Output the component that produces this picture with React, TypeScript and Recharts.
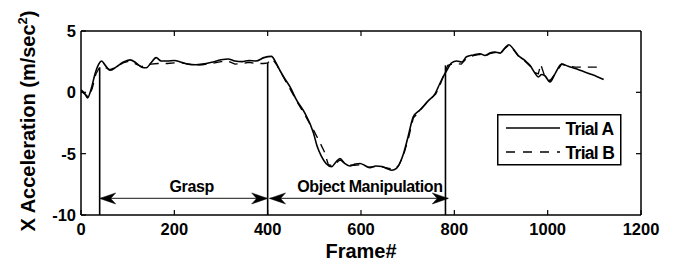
import React from "react";
import { LineChart, Line, XAxis, YAxis, ReferenceLine, Legend } from "recharts";

const FONT = '"Liberation Sans", Arial, Helvetica, sans-serif';

// Frame numbers and X acceleration (m/sec^2)
const trialAFrames = [0, 8, 14, 22, 30, 38, 44, 52, 62, 75, 90, 105, 118, 130, 140, 150, 161, 172, 185, 200, 215, 230, 245, 260, 280, 300, 315, 330, 345, 360, 375, 392, 408, 418, 426, 437, 448, 462, 480, 498, 506, 515, 525, 537, 546, 555, 565, 576, 588, 598, 610, 619, 632, 645, 655, 666, 676, 684, 691, 701, 712, 726, 744, 759, 769, 778, 784, 794, 805, 816, 826, 841, 855, 866, 876, 887, 898, 909, 917, 926, 937, 951, 962, 973, 980, 987, 994, 1005, 1016, 1030, 1044, 1059, 1073, 1091, 1105, 1120];
const trialAValues = [0.2, -0.1, -0.45, 0.3, 1.5, 2.3, 2.55, 2.2, 1.8, 2.05, 2.45, 2.65, 2.4, 2.05, 2.0, 2.4, 2.83, 2.55, 2.55, 2.6, 2.45, 2.3, 2.25, 2.3, 2.45, 2.65, 2.72, 2.55, 2.5, 2.6, 2.55, 2.83, 2.93, 2.4, 1.8, 1.1, 0.44, -0.64, -1.72, -3.3, -4.4, -5.2, -5.8, -6.06, -5.7, -5.4, -5.8, -6.0, -5.85, -5.8, -6.0, -6.15, -6.0, -6.05, -6.2, -6.35, -6.2, -5.7, -5.0, -3.6, -2.0, -1.45, -0.7, -0.1, 0.72, 1.4, 1.8, 2.4, 2.55, 2.47, 2.9, 3.05, 3.15, 3.0, 3.2, 3.28, 3.2, 3.65, 3.88, 3.56, 3.0, 2.6, 2.2, 1.55, 1.25, 1.45, 1.35, 0.85, 1.53, 2.3, 2.12, 1.95, 1.75, 1.5, 1.3, 1.05];

const trialBFrames = [0, 10, 16, 24, 32, 40, 50, 62, 75, 90, 105, 118, 130, 140, 150, 165, 185, 200, 215, 230, 245, 260, 280, 300, 315, 330, 345, 360, 375, 392, 400, 410, 420, 430, 440, 452, 465, 482, 500, 512, 521, 530, 540, 555, 570, 585, 600, 615, 630, 648, 660, 672, 682, 692, 702, 712, 726, 744, 760, 770, 778, 786, 795, 805, 815, 826, 841, 855, 866, 876, 887, 898, 909, 917, 926, 937, 951, 962, 973, 980, 985, 992, 1005, 1016, 1030, 1044, 1059, 1075, 1090, 1105, 1120];
const trialBValues = [0.1, -0.2, -0.4, 0.3, 1.5, 2.05, 2.05, 1.85, 2.05, 2.4, 2.55, 2.3, 2.1, 2.2, 2.3, 2.35, 2.35, 2.4, 2.4, 2.3, 2.25, 2.25, 2.35, 2.5, 2.55, 2.3, 2.35, 2.45, 2.35, 2.35, 2.4, 2.75, 2.2, 1.5, 0.8, 0.0, -0.9, -2.0, -3.2, -4.1, -4.8, -5.9, -6.0, -5.5, -5.9, -5.95, -5.9, -6.1, -6.05, -6.1, -6.2, -6.3, -5.9, -5.0, -3.7, -2.1, -1.5, -0.7, -0.15, 0.65, 1.5, 2.2, 2.3, 2.35, 2.3, 2.75, 3.0, 3.1, 2.95, 3.15, 3.25, 3.15, 3.6, 3.85, 3.5, 2.95, 2.55, 2.15, 1.6, 1.5, 2.3, 1.5, 0.95, 1.5, 2.3, 2.15, 2.05, 2.05, 2.05, 2.05, 2.05];

const xTicks = [0, 200, 400, 600, 800, 1000, 1200];
const yTicks = [-10, -5, 0, 5];
const xDomain = [0, 1200];
const yDomain = [-10, 5];

// phase boundaries (frame) and where the boundary line meets the curve
const boundaryFrames = [40, 400, 781];
const boundaryTops = [2.05, 2.4, 2.2];

// phases: start, end, label, arrow level
const phaseStarts = [40, 404];
const phaseEnds = [400, 787];
const phaseLabels = ["Grasp", "Object Manipulation"];
const phaseLevel = -8.65;
const labelShift = [8, 11];

const seriesNames = ["Trial A", "Trial B"];

const trialA = trialAFrames.map((f, i) => ({ f, v: trialAValues[i] }));
const trialB = trialBFrames.map((f, i) => ({ f, v: trialBValues[i] }));

const tickStyle = { fontSize: 16.5, fontWeight: 700, fill: "#000", fontFamily: FONT };
const TICK = 5;

function head(x: number, y: number, dir: number) {
  const L = 16;
  const W = 5.5;
  const N = 11;
  const pts = [
    [x, y],
    [x - dir * L, y - W],
    [x - dir * N, y],
    [x - dir * L, y + W],
  ]
    .map((p) => p.join(","))
    .join(" ");
  return <polygon points={pts} fill="#000" stroke="#000" strokeWidth={0.5} />;
}

const makeArrow = (label: string, shift: number) => (props: any) => {
  const { x1, y1, x2, y2 } = props;
  return (
    <g>
      <line x1={x1} y1={y1} x2={x2} y2={y2} stroke="#444" strokeWidth={1.2} />
      {head(x1, y1, -1)}
      {head(x2, y2, 1)}
      <text
        x={(x1 + x2) / 2 + shift}
        y={y1 - 6}
        textAnchor="middle"
        fontFamily={FONT}
        fontSize={16}
        fontWeight={700}
        fill="#000"
        letterSpacing={-0.4}
      >
        {label}
      </text>
    </g>
  );
};

// inward tick at the top edge, drawn from the full-height reference line
const topTick = (props: any) => {
  const { x1, y1, y2 } = props;
  const top = Math.min(y1, y2);
  return <line x1={x1} x2={x1} y1={top} y2={top + TICK} stroke="#000" strokeWidth={1.2} />;
};
// inward tick at the right edge
const rightTick = (props: any) => {
  const { x1, x2, y1 } = props;
  const right = Math.max(x1, x2);
  return <line x1={right} x2={right - TICK} y1={y1} y2={y1} stroke="#000" strokeWidth={1.2} />;
};

const YLabel = () => (
  <text
    x={27}
    y={113}
    transform="rotate(-90, 27, 113)"
    textAnchor="middle"
    fontFamily={FONT}
    fontSize={20}
    fontWeight={700}
    fill="#000"
  >
    X Acceleration (m/sec
    <tspan fontSize={13} dy={-8}>2</tspan>
    <tspan dy={8}>)</tspan>
  </text>
);

const XLabel = (props: any) => {
  const vb = props.viewBox || {};
  return (
    <text
      x={(vb.x ?? 73) + (vb.width ?? 560) / 2}
      y={250}
      textAnchor="middle"
      fontFamily={FONT}
      fontSize={20}
      fontWeight={700}
      fill="#000"
    >
      Frame#
    </text>
  );
};

const LegendBox = () => (
  <svg width={125} height={52} style={{ display: "block" }}>
    <rect x={0.75} y={0.75} width={123} height={50} fill="#fff" stroke="#000" strokeWidth={1.5} />
    <line x1={9} x2={63} y1={14} y2={14} stroke="#000" strokeWidth={1.5} />
    <line x1={9} x2={63} y1={38} y2={38} stroke="#000" strokeWidth={1.3} strokeDasharray="9 8" />
    <text x={68.5} y={21} fontFamily={FONT} fontSize={17.5} fontWeight={700} fill="#000" letterSpacing={-0.7}>
      {seriesNames[0]}
    </text>
    <text x={68.5} y={45} fontFamily={FONT} fontSize={17.5} fontWeight={700} fill="#000" letterSpacing={-0.7}>
      {seriesNames[1]}
    </text>
  </svg>
);

export default function App() {
  return (
    <div style={{ width: 670, height: 260, background: "#fff" }}>
      <LineChart width={670} height={260} margin={{ top: 23, right: 37, left: 0, bottom: 0 }}>
        <XAxis
          type="number"
          dataKey="f"
          domain={xDomain}
          ticks={xTicks}
          allowDataOverflow
          height={53}
          tickSize={-TICK}
          tickMargin={13}
          tick={tickStyle}
          stroke="#000"
          axisLine={{ stroke: "#000", strokeWidth: 1.5 }}
          tickLine={{ stroke: "#000", strokeWidth: 1.2 }}
          label={<XLabel />}
        />
        <YAxis
          type="number"
          domain={yDomain}
          ticks={yTicks}
          allowDataOverflow
          width={73}
          tickSize={-TICK}
          tickMargin={10}
          tick={tickStyle}
          axisLine={{ stroke: "#000", strokeWidth: 1.5 }}
          tickLine={{ stroke: "#000", strokeWidth: 1.2 }}
          label={<YLabel />}
        />
        {/* frame: top and right edges */}
        <ReferenceLine
          segment={[
            { x: xDomain[0], y: yDomain[1] },
            { x: xDomain[1], y: yDomain[1] },
          ]}
          stroke="#000"
          strokeWidth={1.5}
        />
        <ReferenceLine
          segment={[
            { x: xDomain[1], y: yDomain[0] },
            { x: xDomain[1], y: yDomain[1] },
          ]}
          stroke="#000"
          strokeWidth={1.5}
        />
        {xTicks.slice(1, -1).map((t) => (
          <ReferenceLine key={"tt" + t} x={t} shape={topTick} />
        ))}
        {yTicks.slice(1, -1).map((t) => (
          <ReferenceLine key={"rt" + t} y={t} shape={rightTick} />
        ))}
        <Line
          data={trialB}
          dataKey="v"
          name={seriesNames[1]}
          stroke="#000"
          strokeWidth={1.3}
          strokeDasharray="9 7"
          dot={false}
          type="linear"
          isAnimationActive={false}
        />
        <Line
          data={trialA}
          dataKey="v"
          name={seriesNames[0]}
          stroke="#000"
          strokeWidth={1.6}
          dot={false}
          type="monotone"
          isAnimationActive={false}
        />
        {boundaryFrames.map((f, i) => (
          <ReferenceLine
            key={"b" + i}
            segment={[
              { x: f, y: boundaryTops[i] },
              { x: f, y: yDomain[0] },
            ]}
            stroke="#000"
            strokeWidth={1.6}
          />
        ))}
        {phaseLabels.map((lab, i) => (
          <ReferenceLine
            key={"p" + i}
            segment={[
              { x: phaseStarts[i], y: phaseLevel },
              { x: phaseEnds[i], y: phaseLevel },
            ]}
            shape={makeArrow(lab, labelShift[i])}
          />
        ))}
        <Legend
          layout="vertical"
          align="center"
          verticalAlign="middle"
          wrapperStyle={{ position: "absolute", left: 489, top: 106, width: 125, height: 52 }}
          content={() => <LegendBox />}
        />
      </LineChart>
    </div>
  );
}
